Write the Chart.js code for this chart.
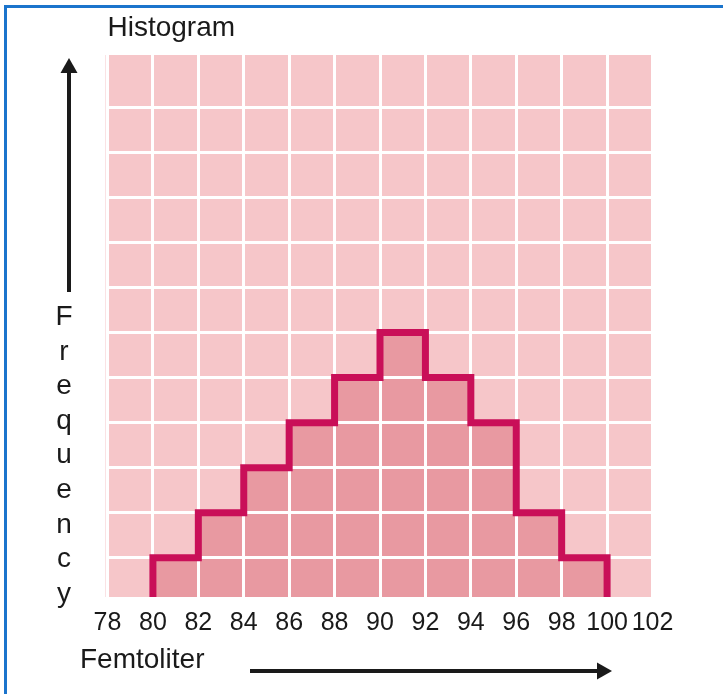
<!DOCTYPE html>
<html>
<head>
<meta charset="utf-8">
<script src="https://cdn.jsdelivr.net/npm/chart.js@4.4.1/dist/chart.umd.min.js"></script>
<style>
body { margin: 0; background: #fff; overflow: hidden; }
#frame { position: absolute; left: 4px; top: 5px; width: 760px; height: 740px;
  border-left: 3px solid #1b74cc; border-top: 3px solid #1b74cc; }
#wrap { position: absolute; left: 0; top: 0; width: 723px; height: 694px; }
</style>
</head>
<body>
<div id="frame"></div>
<div id="wrap"><canvas id="myChart"></canvas></div>
<script>
var binStart = [80, 82, 84, 86, 88, 90, 92, 94, 96, 98];
var counts = [1, 2, 3, 4, 5, 6, 5, 4, 2, 1];
var binWidth = 2;
var xTickLabels = [78, 80, 82, 84, 86, 88, 90, 92, 94, 96, 98, 100, 102];
var yGridValues = [1, 2, 3, 4, 5, 6, 7, 8, 9, 10, 11];
var chartTitle = 'Histogram';
var yTitle = 'Frequency';
var xTitle = 'Femtoliter';

var textFont = '28px "Liberation Sans", Arial, sans-serif';
Chart.defaults.font.family = '"Liberation Sans", Arial, sans-serif';

// bars sit at the middle of each bin
var barData = [];
for (var i = 0; i < binStart.length; i++) {
    barData.push({x: binStart[i] + binWidth / 2, y: counts[i]});
}

// stepped outline round the bars, open at the bottom
var outline = [{x: binStart[0], y: 0}];
for (var i = 0; i < binStart.length; i++) {
    outline.push({x: binStart[i], y: counts[i]});
}
outline.push({x: binStart[binStart.length - 1] + binWidth, y: 0});

function arrow(c, x1, y1, x2, y2) {
    var ang = Math.atan2(y2 - y1, x2 - x1);
    var headLen = 15, half = 8.5;
    var bx = x2 - headLen * Math.cos(ang), by = y2 - headLen * Math.sin(ang);
    c.beginPath();
    c.moveTo(x1, y1);
    c.lineTo(bx, by);
    c.stroke();
    c.beginPath();
    c.moveTo(x2, y2);
    c.lineTo(bx + half * Math.sin(ang), by - half * Math.cos(ang));
    c.lineTo(bx - half * Math.sin(ang), by + half * Math.cos(ang));
    c.closePath();
    c.fill();
}

var decor = {
    id: 'decor',
    beforeDraw: function(chart) {
        var a = chart.chartArea, c = chart.ctx;
        c.save();
        c.fillStyle = '#f6c6c9';
        c.fillRect(a.left - 2, a.top, a.right - a.left + 2, a.bottom - a.top);
        c.restore();
    },
    beforeDatasetDraw: function(chart, args) {
        // white grid again over the bars, under the outline
        if (args.index === 0) {
            chart.scales.x.drawGrid(chart.chartArea);
            chart.scales.y.drawGrid(chart.chartArea);
        }
    },
    afterDraw: function(chart) {
        var c = chart.ctx;
        c.save();
        c.fillStyle = '#1a1a1a';
        c.strokeStyle = '#1a1a1a';
        c.font = textFont;
        c.textAlign = 'center';
        c.textBaseline = 'alphabetic';
        for (var i = 0; i < yTitle.length; i++) {
            c.fillText(yTitle[i], 64, 325 + i * 34.6);
        }
        c.textAlign = 'left';
        c.fillText(xTitle, 80, 668);
        c.lineWidth = 4;
        arrow(c, 69, 292, 69, 58);
        arrow(c, 250, 671, 612, 671);
        c.restore();
    }
};

var ctx = document.getElementById('myChart').getContext('2d');
new Chart(ctx, {
    type: 'bar',
    data: {
        datasets: [{
            type: 'line',
            data: outline,
            stepped: 'before',
            borderColor: '#c90f58',
            borderWidth: 7,
            borderJoinStyle: 'miter',
            borderCapStyle: 'butt',
            pointRadius: 0,
            fill: false,
            clip: 0
        }, {
            data: barData,
            backgroundColor: '#e899a1',
            borderWidth: 0,
            barPercentage: 1,
            categoryPercentage: 1,
            clip: 0
        }]
    },
    options: {
        responsive: true,
        maintainAspectRatio: false,
        animation: false,
        events: [],
        layout: {padding: {left: 107.5, right: 70.5, top: 0, bottom: 45}},
        plugins: {
            legend: {display: false},
            tooltip: {enabled: false},
            title: {
                display: true,
                text: chartTitle,
                align: 'start',
                color: '#1a1a1a',
                font: {size: 28, weight: 'normal'},
                padding: {top: 11, bottom: 10.4}
            }
        },
        scales: {
            x: {
                type: 'linear',
                min: 78,
                max: 102,
                offset: false,
                afterBuildTicks: function(scale) {
                    scale.ticks = xTickLabels.map(function(v) { return {value: v}; });
                },
                grid: {color: '#ffffff', lineWidth: 3, drawTicks: false, offset: false},
                border: {display: false},
                ticks: {
                    color: '#1a1a1a',
                    font: {size: 25},
                    padding: 11,
                    maxRotation: 0,
                    autoSkip: false,
                    callback: function(v) { return String(v); }
                }
            },
            y: {
                type: 'linear',
                min: 0.13,
                max: 12.16,
                afterBuildTicks: function(scale) {
                    scale.ticks = yGridValues.map(function(v) { return {value: v}; });
                },
                grid: {color: '#ffffff', lineWidth: 3, drawTicks: false},
                border: {display: false},
                ticks: {display: false}
            }
        }
    },
    plugins: [decor]
});
</script>
</body>
</html>
